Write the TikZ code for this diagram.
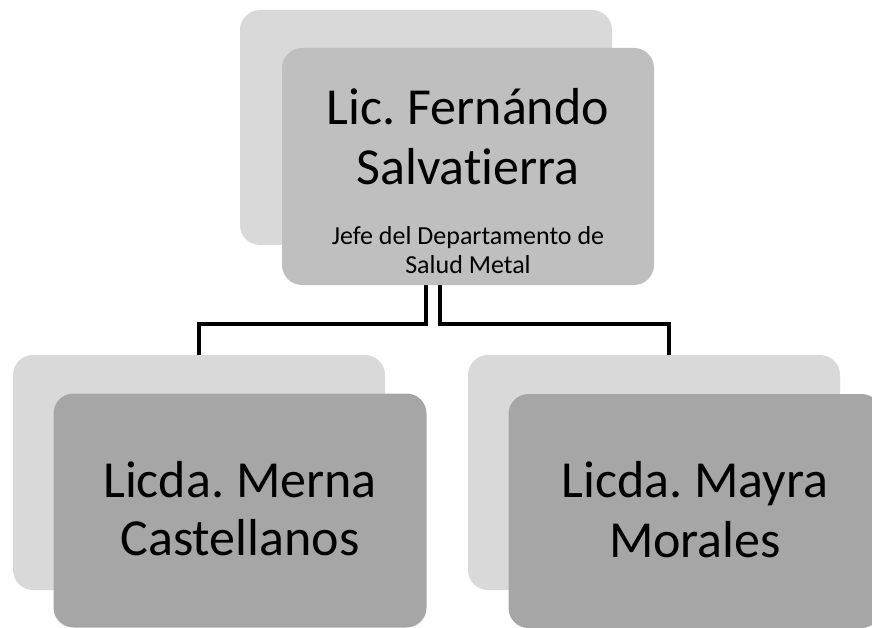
\documentclass[tikz,border=0pt]{standalone}
\usepackage{fontspec}
\setmainfont[Ligatures={NoCommon,NoRare,NoDiscretionary}]{Carlito}
\frenchspacing
\definecolor{backg}{HTML}{D9D9D9}
\definecolor{topg}{HTML}{BFBFBF}
\definecolor{botg}{HTML}{A6A6A6}
\tikzset{
  card/.style={rectangle, rounded corners=20pt, inner sep=0pt, outer sep=0pt, draw=none},
  backcard/.style={card, fill=backg, minimum width=372pt, minimum height=235pt},
  topcard/.style={card, fill=topg, minimum width=372pt, minimum height=237pt},
  botcard/.style={card, fill=botg, minimum width=373pt, minimum height=234pt},
  conn/.style={line width=4.5pt, draw=black},
  bigtxt/.style={anchor=base, inner sep=0pt, font=\fontsize{52}{60}\selectfont},
  smalltxt/.style={anchor=base, inner sep=0pt, font=\fontsize{26}{28}\selectfont}
}
\begin{document}
\begin{tikzpicture}[x=1pt,y=-1pt]
\useasboundingbox (0,0) rectangle (872,628);
% back cards
\node[backcard] (tb) at (426,127.5) {};
\node[backcard] (lb) at (199,472.5) {};
\node[backcard] (rb) at (654,472.5) {};
% connectors
\draw[conn] (tb.south) -- ++(0,79) -| (lb.north);
\draw[conn] ([xshift=14pt]tb.south) -- ++(0,79) -| ([xshift=15pt]rb.north);
% front cards
\node[topcard] (tf) at (468,166.5) {};
\node[botcard] (lf) at (240,510.5) {};
\node[botcard] (rf) at (695,511) {};
% texts
\node[bigtxt] (t1) at ([yshift=41.5pt]tf.center) {Lic. Fernándo};
\node[bigtxt] (t2) at ([yshift=-18.5pt]tf.center) {Salvatierra};
\node[smalltxt] (t3) at ([yshift=-78.5pt]tf.center) {Jefe del Departamento de};
\node[smalltxt] (t4) at ([yshift=-106.5pt]tf.center) {Salud Metal};
\node[bigtxt] (l1) at ([yshift=13.5pt]lf.center) {Licda. Merna};
\node[bigtxt] (l2) at ([yshift=-44.5pt]lf.center) {Castellanos};
\node[bigtxt] (r1) at ([yshift=14pt]rf.center) {Licda. Mayra};
\node[bigtxt] (r2) at ([yshift=-46pt]rf.center) {Morales};
\end{tikzpicture}
\end{document}
